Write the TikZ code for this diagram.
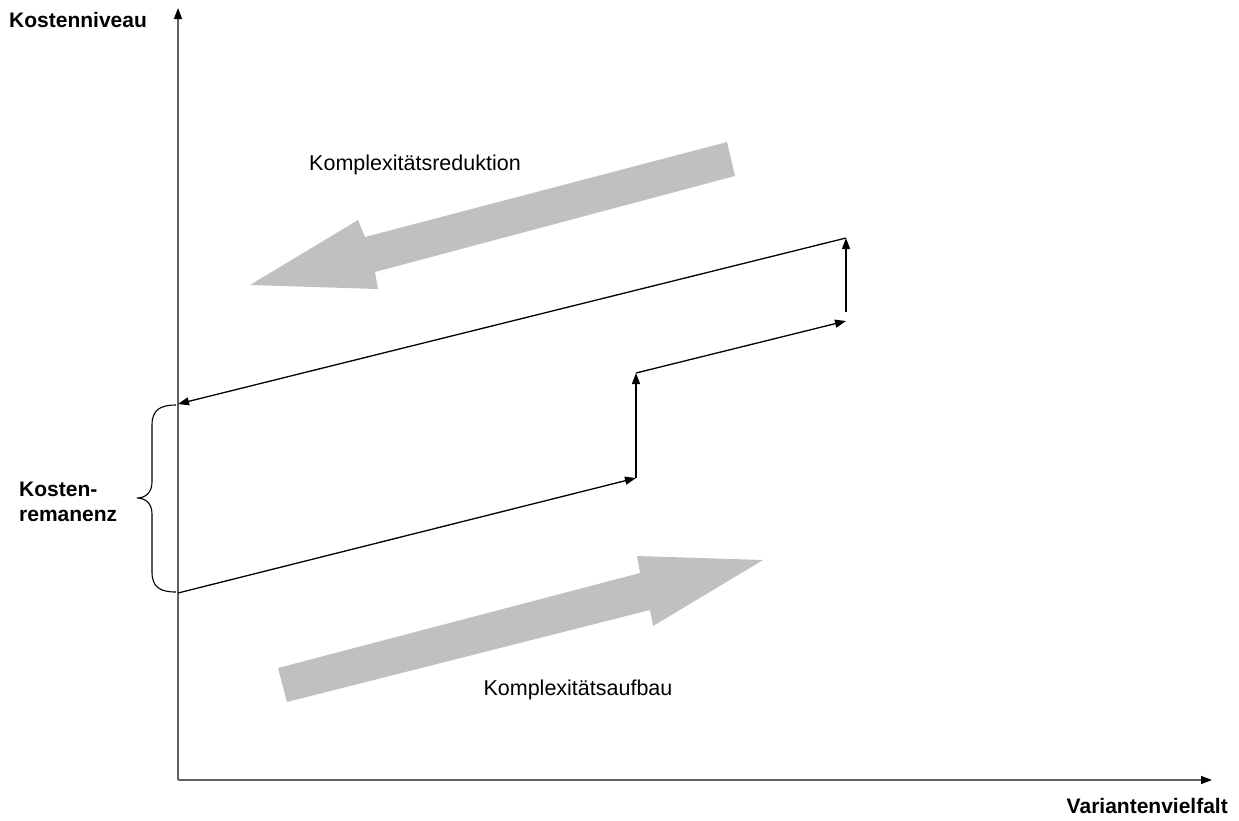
\documentclass[tikz,border=0pt]{standalone}
\usepackage{fontspec}
\setmainfont{Liberation Sans}
\usetikzlibrary{arrows.meta}
\definecolor{arrowgray}{HTML}{C0C0C0}
\definecolor{axisgray}{HTML}{606060}
\begin{document}
\begin{tikzpicture}[x=1pt,y=-1pt,
  axisline/.style={draw=axisgray,line width=1.4pt,-{Triangle[length=11pt,width=8pt,color=black]}},
  stepline/.style={draw=black,line width=1.3pt,-{Triangle[length=11pt,width=8pt]}},
  plainlabel/.style={font=\fontsize{21.5}{25}\selectfont,inner sep=0pt},
  boldlabel/.style={font=\bfseries\fontsize{21}{25}\selectfont,inner sep=0pt},
  bigarrow/.style={fill=arrowgray,draw=none}]
\useasboundingbox (0,0) rectangle (1239,820);
% axes
\coordinate (O) at (178,780);
\coordinate (ytop) at (178,8);
\coordinate (xend) at (1212,780);
\draw[axisline] (O) -- (ytop);
\draw[axisline] (O) -- (xend);
% big gray arrows
\fill[bigarrow] (727,142) -- (735,176) -- (375,272) -- (378,289) -- (250,285) -- (358,220) -- (365,237) -- cycle;
\fill[bigarrow] (278,668) -- (287,702) -- (650,610) -- (653,626) -- (763,560) -- (637,556) -- (640,573) -- cycle;
% step path
\coordinate (p0) at (178,593);
\coordinate (p1) at (636,478);
\coordinate (p2) at (636,373);
\coordinate (p3) at (846,321);
\coordinate (p4) at (846,312);
\coordinate (p5) at (846,238);
\coordinate (p6) at (178,404);
\draw[stepline] (p0) -- (p1);
\draw[stepline] (p1) -- (p2);
\draw[stepline] (p2) -- (p3);
\draw[stepline] (p4) -- (p5);
\draw[stepline] (p5) -- (p6);
% brace
\coordinate (btop) at (176,405);
\coordinate (bbot) at (176,592);
\coordinate (btip) at (137,498);
\draw[black,line width=1.1pt] (btop) .. controls (160,405) and (152,410) .. (152,425) -- (152,482) .. controls (152,492) and (146,498) .. (btip) .. controls (146,498) and (152,504) .. (152,514) -- (152,572) .. controls (152,587) and (160,592) .. (bbot);
% labels
\node[boldlabel,anchor=west] (ylab) at (9,20) {Kostenniveau};
\node[boldlabel,anchor=east] (xlab) at (1228,806) {Variantenvielfalt};
\node[boldlabel,anchor=west,align=left] (rem) at (19,502) {Kosten-\\remanenz};
\node[plainlabel] (red) at (415,165) {Komplexitätsreduktion};
\node[plainlabel] (auf) at (578,690) {Komplexitätsaufbau};
\end{tikzpicture}
\end{document}
